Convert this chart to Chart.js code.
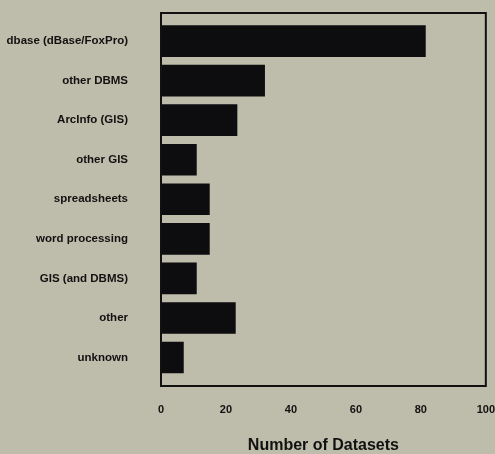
<!DOCTYPE html>
<html>
<head>
<meta charset="utf-8">
<script src="https://cdn.jsdelivr.net/npm/chart.js@4"></script>
<style>
  html, body { margin: 0; padding: 0; background: #bebcaa; }
  #wrap { width: 495px; height: 454px; position: relative; }
</style>
</head>
<body>
<div id="wrap"><canvas id="chart"></canvas></div>
<script>
const categories = ['dbase (dBase/FoxPro)', 'other DBMS', 'ArcInfo (GIS)', 'other GIS', 'spreadsheets',
    'word processing', 'GIS (and DBMS)', 'other', 'unknown'];
const datasetCounts = [81.5, 32, 23.5, 11, 15, 15, 11, 23, 7];
const xTicks = [0, 20, 40, 60, 80, 100];

const labelFont = { family: 'Liberation Sans', weight: 'bold', size: 11.5 };

// box round the plot area
const frame = {
    id: 'frame',
    afterDraw(chart) {
        const { ctx, chartArea: a } = chart;
        ctx.save();
        ctx.strokeStyle = '#111';
        ctx.lineWidth = 2;
        ctx.strokeRect(a.left, a.top, a.right - a.left, a.bottom - a.top);
        ctx.restore();
    }
};

const ctx = document.getElementById('chart').getContext('2d');
new Chart(ctx, {
    type: 'bar',
    data: {
        datasets: [{
            // y is the category index on a linear axis so the end gaps can be wider than half a row
            data: datasetCounts.map((v, i) => ({ x: v, y: i })),
            backgroundColor: '#0d0d0f',
            categoryPercentage: 0.8,
            barPercentage: 1.0
        }]
    },
    options: {
        indexAxis: 'y',
        responsive: true,
        maintainAspectRatio: false,
        animation: false,
        layout: { autoPadding: false, padding: { left: 0, right: 8, top: 13, bottom: 0 } },
        plugins: { legend: { display: false }, tooltip: { enabled: false } },
        scales: {
            x: {
                type: 'linear',
                min: 0, max: 100,
                afterBuildTicks: axis => { axis.ticks = xTicks.map(v => ({ value: v })); },
                afterFit: axis => { axis.height = 68; },
                // invisible tick marks push the labels down without padding the plot
                grid: { drawOnChartArea: false, drawTicks: true, tickLength: 17, tickColor: 'rgba(0,0,0,0)' },
                border: { display: false },
                ticks: { color: '#111', padding: 0, font: { family: 'Liberation Sans', weight: 'bold', size: 11 } },
                title: { display: true, text: 'Number of Datasets', color: '#111', padding: { top: 10, bottom: 0 },
                    font: { family: 'Liberation Sans', weight: 'bold', size: 16, lineHeight: 1 } }
            },
            y: {
                type: 'linear',
                reverse: true,
                offset: false,
                min: -0.71, max: 8.72,
                afterBuildTicks: axis => { axis.ticks = categories.map((c, i) => ({ value: i })); },
                afterFit: axis => { axis.width = 161; },
                grid: { offset: false, drawOnChartArea: false, drawTicks: true, tickLength: 33, tickColor: 'rgba(0,0,0,0)' },
                border: { display: false },
                ticks: { color: '#111', padding: 0, font: labelFont, callback: v => categories[v] }
            }
        }
    },
    plugins: [frame]
});
</script>
</body>
</html>
